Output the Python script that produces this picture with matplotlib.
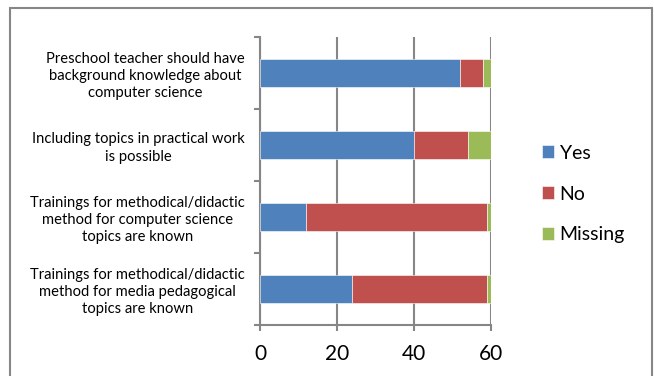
import numpy as np
import matplotlib
matplotlib.use("Agg")
import matplotlib.pyplot as plt
from matplotlib.patches import Rectangle

plt.rcParams['font.family'] = ['Lato', 'DejaVu Sans']

# survey items, top to bottom
questions = [
    "Preschool teacher should have\nbackground knowledge about\ncomputer science",
    "Including topics in practical work\nis possible",
    "Trainings for methodical/didactic\nmethod for computer science\ntopics are known",
    "Trainings for methodical/didactic\nmethod for media pedagogical\ntopics are known",
]
yes = [52, 40, 12, 24]
no = [6, 14, 47, 35]
missing = [2, 6, 1, 1]

series = ["Yes", "No", "Missing"]
colors = ["#4F81BD", "#C0504D", "#9BBB59"]
xticks = [0, 20, 40, 60]

grey = "#868686"

fig = plt.figure(figsize=(6.54, 3.76), dpi=100)
ax = fig.add_axes([260 / 654, 51 / 376, 231 / 654, 288 / 376])

y = np.arange(len(questions))
left = np.zeros(len(questions))
for name, vals, c in zip(series, [yes, no, missing], colors):
    ax.barh(y, vals, left=left, height=0.39, color=c, label=name,
            edgecolor="white", linewidth=0.4, zorder=3)
    left += np.array(vals)

ax.set_xlim(0, 60)
ax.set_ylim(len(questions) - 0.5, -0.5)
ax.set_xticks(xticks)
ax.set_xticklabels([str(t) for t in xticks], fontsize=15)
ax.set_yticks(y)
ax.set_yticklabels(questions, fontsize=10.6, multialignment="center",
                   linespacing=1.3)
ax.set_yticks(np.arange(-0.5, len(questions)), minor=True)

ax.grid(axis="x", color=grey, linewidth=1.5, zorder=0)
for s in ["top", "right"]:
    ax.spines[s].set_visible(False)
for s in ["left", "bottom"]:
    ax.spines[s].set_color(grey)
    ax.spines[s].set_linewidth(1.5)

ax.tick_params(axis="y", which="major", length=0, pad=11)
ax.tick_params(axis="y", which="minor", length=4, width=1.5, color=grey)
ax.tick_params(axis="x", length=4, width=1.5, color=grey, pad=10)

leg = fig.legend(loc="center left", bbox_to_anchor=(532 / 654, 1 - 194 / 376),
                 frameon=False, fontsize=14, handlelength=0.62, handleheight=0.62,
                 handletextpad=0.3, labelspacing=1.23, borderpad=0)

# outer frame around the chart
fig.patches.append(Rectangle((10 / 654, -0.1), 642 / 654, 1.1 - 8 / 376,
                             transform=fig.transFigure, fill=False,
                             edgecolor=grey, linewidth=1.5))

fig.savefig("out.png", dpi=100)
